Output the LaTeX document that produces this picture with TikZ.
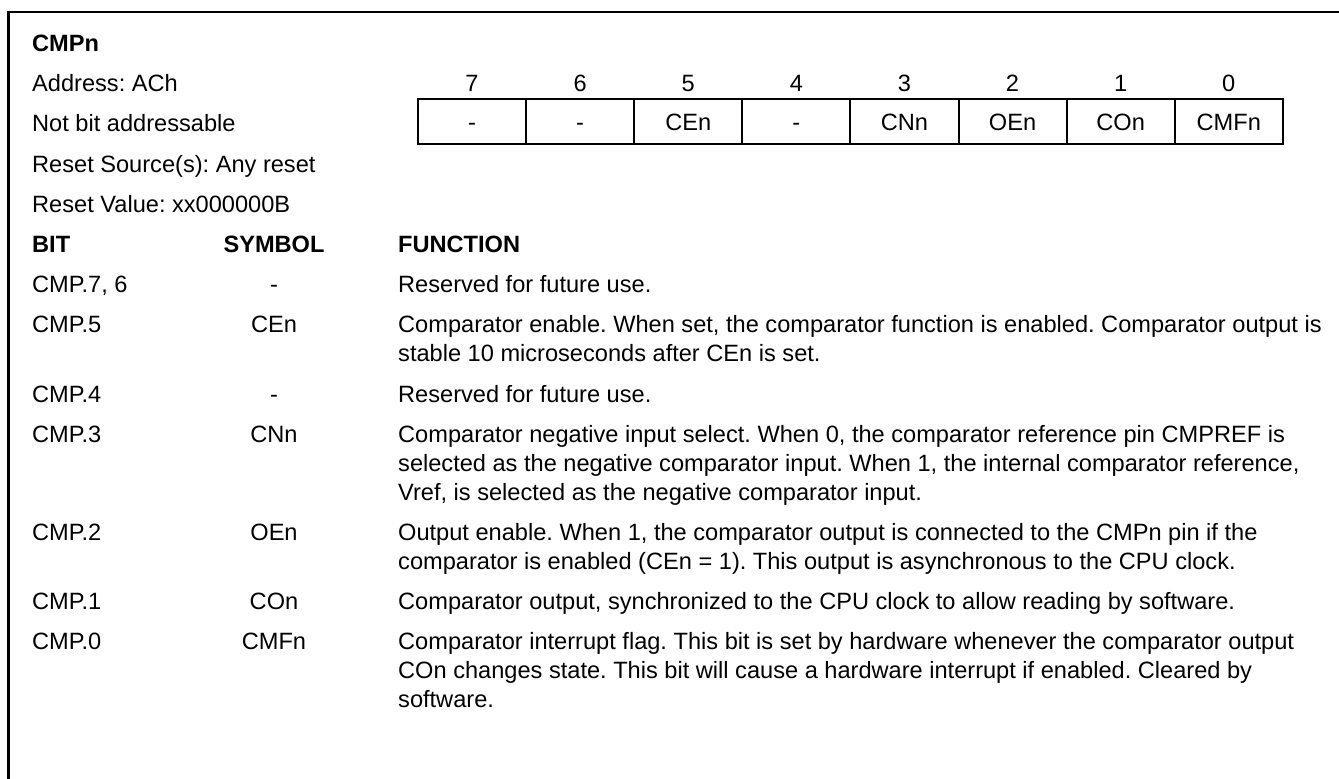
\documentclass[tikz,border=0pt]{standalone}
\usepackage{fontspec}
\setmainfont{Liberation Sans}
\usetikzlibrary{positioning}
\frenchspacing

\begin{document}
\begin{tikzpicture}[x=1pt, y=-1pt, node distance=108.1pt, on grid,
    every node/.style={font=\fontsize{23.6}{29}\selectfont, inner sep=0pt},
    cell/.style={draw, line width=2pt, minimum width=108.1pt, minimum height=45pt,
      text height=17pt, text depth=0pt},
    txt/.style={anchor=base west, align=left},
    head/.style={txt, font=\fontsize{23.6}{29}\selectfont\bfseries},
    sym/.style={anchor=base}
  ]
  \useasboundingbox (0,0) rectangle (1339,779);
  % outer frame
  \draw[line width=2.5pt] (8.7,779) -- (8.7,12.2) -- (1339,12.2);

  % register header
  \node[head] (title) at (32,51.5) {CMPn};
  \node[txt] (addr) at (32,91.7) {Address: ACh};
  \node[txt] (bitaddr) at (32,131.9) {Not bit addressable};
  \node[txt] (rsrc) at (32,172.1) {Reset Source(s): Any reset};
  \node[txt] (rval) at (32,212.3) {Reset Value: xx000000B};

  % bit cells
  \node[cell] (b_7) at (472.05,121.5) {-};
  \node[cell] (b_6) [right=of b_7] {-};
  \node[cell] (b_5) [right=of b_6] {CEn};
  \node[cell] (b_4) [right=of b_5] {-};
  \node[cell] (b_3) [right=of b_4] {CNn};
  \node[cell] (b_2) [right=of b_3] {OEn};
  \node[cell] (b_1) [right=of b_2] {COn};
  \node[cell] (b_0) [right=of b_1] {CMFn};
  \node (n_7) [above=38.3pt of b_7] {7};
  \node (n_6) [above=38.3pt of b_6] {6};
  \node (n_5) [above=38.3pt of b_5] {5};
  \node (n_4) [above=38.3pt of b_4] {4};
  \node (n_3) [above=38.3pt of b_3] {3};
  \node (n_2) [above=38.3pt of b_2] {2};
  \node (n_1) [above=38.3pt of b_1] {1};
  \node (n_0) [above=38.3pt of b_0] {0};

  % bit description table (multi-line texts sit on their last line)
  \node[head] (h_bit) at (32,252.5) {BIT};
  \node[head, anchor=base] (h_sym) at (274,252.5) {SYMBOL};
  \node[head] (h_fun) at (398,252.5) {FUNCTION};

  \node[txt] (r_76) at (32,292.7) {CMP.7, 6};
  \node[sym] (s_76) at (274,292.7) {-};
  \node[txt] (f_76) at (398,292.7) {Reserved for future use.};

  \node[txt] (r_5) at (32,332.9) {CMP.5};
  \node[sym] (s_5) at (274,332.9) {CEn};
  \node[txt] (f_5) at (398,361.9) {Comparator enable. When set, the comparator function is enabled. Comparator output is\\
    stable 10 microseconds after CEn is set.};

  \node[txt] (r_4) at (32,402.1) {CMP.4};
  \node[sym] (s_4) at (274,402.1) {-};
  \node[txt] (f_4) at (398,402.1) {Reserved for future use.};

  \node[txt] (r_3) at (32,442.3) {CMP.3};
  \node[sym] (s_3) at (274,442.3) {CNn};
  \node[txt] (f_3) at (398,500.3) {Comparator negative input select. When 0, the comparator reference pin CMPREF is\\
    selected as the negative comparator input. When 1, the internal comparator reference,\\
    Vref, is selected as the negative comparator input.};

  \node[txt] (r_2) at (32,540.5) {CMP.2};
  \node[sym] (s_2) at (274,540.5) {OEn};
  \node[txt] (f_2) at (398,569.5) {Output enable. When 1, the comparator output is connected to the CMPn pin if the\\
    comparator is enabled (CEn = 1). This output is asynchronous to the CPU clock.};

  \node[txt] (r_1) at (32,609.7) {CMP.1};
  \node[sym] (s_1) at (274,609.7) {COn};
  \node[txt] (f_1) at (398,609.7) {Comparator output, synchronized to the CPU clock to allow reading by software.};

  \node[txt] (r_0) at (32,649.9) {CMP.0};
  \node[sym] (s_0) at (274,649.9) {CMFn};
  \node[txt] (f_0) at (398,707.9) {Comparator interrupt flag. This bit is set by hardware whenever the comparator output\\
    COn changes state. This bit will cause a hardware interrupt if enabled. Cleared by\\
    software.};
\end{tikzpicture}
\end{document}
